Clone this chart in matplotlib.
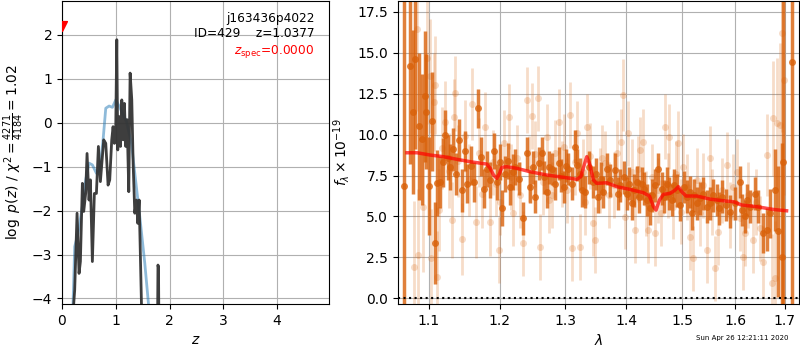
"""Redshift fit summary: p(z) on the left, 1D grism spectrum + best-fit model on the right."""

import matplotlib
matplotlib.use("Agg")
import matplotlib.pyplot as plt
from matplotlib.ticker import FixedLocator, FixedFormatter, NullLocator
import numpy as np

# --- p(z) -------------------------------------------------------------
z_grid = [0.19, 0.236, 0.28, 0.317, 0.342, 0.379, 0.404, 0.44, 0.466, 0.503,
          0.528, 0.565, 0.602, 0.64, 0.677, 0.714, 0.776, 0.814, 0.857, 0.888,
          0.925, 0.95, 0.975, 1.0, 1.019, 1.037, 1.062, 1.087, 1.112, 1.137,
          1.161, 1.186, 1.211, 1.242, 1.267, 1.298, 1.323, 1.354, 1.385, 1.41,
          1.435, 1.478, 1.52, 1.77, 1.785, 1.795, 1.81, 2.0]
logp = [-4.6, -3.81, -2.06, -3.43, -3.16, -1.38, -2.02, -1.61, -0.70, -1.76,
        -1.30, -3.16, -1.61, -1.61, -0.54, -1.34, -0.39, -0.47, -1.42, -1.30,
        -0.39, -0.09, -0.47, -0.09, 1.89, -0.62, 0.14, -0.54, 0.52, -0.39,
        0.44, -0.54, 0.07, -1.57, 1.13, 0.52, -0.92, -2.06, -1.76, -2.29,
        -1.76, -4.13, -6.0, -6.0, -3.24, -3.3, -6.0, -6.0]

z_prior = [0.19, 0.205, 0.236, 0.298, 0.379, 0.441, 0.503, 0.565, 0.64, 0.702,
           0.764, 0.814, 0.876, 0.938, 1.0, 1.062, 1.137, 1.199, 1.292, 1.354,
           1.447, 1.54, 1.609, 1.65]
logp_prior = [-5.2, -4.13, -2.82, -2.52, -1.91, -1.30, -0.92, -0.96, -1.15, -1.08,
              -0.39, 0.33, 0.38, 0.35, 0.52, 0.38, 0.18, 0.03, -0.47, -1.15,
              -2.14, -3.20, -4.13, -4.8]

z_spec = 0.0
chi2, dof = 4271, 4184

# --- spectrum (wavelength in microns, flux in 1e-19) --------------------
wave_a = [1.0678, 1.0757, 1.0792, 1.0822, 1.0867, 1.0911, 1.0946, 1.0969, 1.1000, 1.1045,
          1.1081, 1.1112, 1.1158, 1.1190, 1.1226, 1.1260, 1.1295, 1.1330, 1.1370, 1.1410,
          1.1457, 1.1503, 1.1527, 1.1580, 1.1631, 1.1678, 1.1726, 1.1764, 1.1810, 1.1860,
          1.1908, 1.1957, 1.2000, 1.2030, 1.2079, 1.2115, 1.2153, 1.2190, 1.2227, 1.2290,
          1.2352, 1.2403, 1.2453, 1.2490, 1.2530, 1.2581, 1.2632, 1.2670, 1.2710, 1.2750,
          1.2788, 1.2840, 1.2892, 1.2930, 1.2971, 1.3010, 1.3050, 1.3100, 1.3157, 1.3184,
          1.3230, 1.3265, 1.3319, 1.3380, 1.3455, 1.3500, 1.3537, 1.3580, 1.3620, 1.3680,
          1.3732, 1.3816, 1.3860, 1.3900, 1.3960, 1.4013, 1.4060, 1.4099, 1.4140, 1.4186,
          1.4230, 1.4272, 1.4310, 1.4360, 1.4419, 1.4460, 1.4507, 1.4566, 1.4626, 1.4670,
          1.4716, 1.4760, 1.4806, 1.4850, 1.4896, 1.4957, 1.5020, 1.5079, 1.5130, 1.5171,
          1.5220, 1.5264, 1.5330, 1.5389, 1.5450, 1.5515, 1.5580, 1.5642, 1.5690, 1.5738,
          1.5820, 1.5899, 1.5996, 1.6094, 1.6140, 1.6193, 1.6240, 1.6292, 1.6391, 1.6458,
          1.6559, 1.6627, 1.6694, 1.6796, 1.6865, 1.6933, 1.6968, 1.7141]
flux_a = [6.86, 14.2, 11.4, 14.6, 10.5, 9.7, 12.35, 11.4, 6.86, 10.8,
          3.36, 7.06, 7.1, 8.3, 10.0, 8.6, 8.0, 9.1, 7.6, 9.67,
          6.6, 9.0, 7.0, 8.1, 7.1, 11.6, 8.65, 6.7, 7.9, 7.2,
          9.0, 7.1, 8.3, 5.5, 7.6, 8.4, 6.8, 7.7, 8.0, 7.3,
          4.9, 8.85, 6.8, 8.0, 6.2, 8.25, 8.85, 7.4, 6.5, 8.0,
          7.9, 7.0, 8.25, 7.5, 6.8, 8.1, 7.9, 7.0, 9.25, 8.15,
          7.6, 6.6, 6.5, 8.0, 7.1, 7.6, 6.2, 7.3, 6.5, 7.9,
          7.2, 7.85, 6.4, 6.9, 7.4, 6.4, 7.0, 5.8, 6.6, 7.1,
          6.2, 7.0, 6.7, 6.0, 5.5, 6.3, 6.9, 7.9, 6.7, 6.2,
          7.0, 6.4, 6.0, 6.9, 6.6, 5.7, 6.8, 6.2, 6.5, 5.2,
          6.3, 5.8, 6.1, 6.4, 5.6, 5.8, 6.3, 6.0, 5.5, 6.2,
          5.7, 5.3, 5.8, 7.1, 5.4, 5.0, 6.0, 5.6, 6.4, 5.6,
          4.0, 4.2, 5.2, 6.6, 4.1, 2.5, 8.3, 14.45]
err_a = [14.0, 6.0, 5.0, 5.5, 4.5, 4.0, 4.0, 3.5, 3.0, 3.0,
         2.5, 2.0, 1.6, 1.5, 1.5, 1.4, 1.4, 1.3, 1.3, 1.3,
         1.3, 1.2, 1.2, 1.2, 1.2, 1.2, 1.2, 1.2, 1.1, 1.1,
         1.1, 1.1, 1.1, 1.1, 1.1, 1.1, 1.1, 1.1, 1.1, 1.0,
         1.0, 1.0, 1.0, 1.0, 1.0, 1.0, 1.0, 1.0, 1.0, 1.0,
         1.0, 1.0, 1.0, 1.0, 1.0, 1.0, 1.0, 1.0, 1.0, 1.0,
         1.0, 1.0, 1.0, 1.0, 1.0, 1.0, 1.0, 1.0, 1.0, 1.0,
         1.0, 1.0, 1.0, 1.0, 1.0, 1.0, 1.0, 1.0, 1.0, 1.0,
         1.0, 1.0, 1.0, 1.0, 1.0, 1.0, 1.0, 1.0, 1.0, 1.0,
         1.0, 1.0, 1.0, 1.0, 1.0, 1.0, 1.0, 1.0, 1.0, 1.0,
         1.0, 1.0, 1.0, 1.0, 1.0, 1.0, 1.0, 1.0, 1.0, 1.0,
         1.0, 1.0, 1.0, 1.0, 1.0, 1.0, 1.0, 1.0, 1.0, 1.0,
         1.2, 1.3, 1.5, 2.5, 4.0, 7.0, 12.0, 16.0]

wave_b = [1.0800, 1.0846, 1.0853, 1.0924, 1.0978, 1.1022, 1.1030, 1.1067, 1.1090, 1.1112,
          1.1135, 1.1180, 1.1226, 1.1280, 1.1318, 1.1350, 1.1364, 1.1400, 1.1457, 1.1500,
          1.1550, 1.1598, 1.1659, 1.1700, 1.1740, 1.1788, 1.1860, 1.1900, 1.1940, 1.1981,
          1.2005, 1.2060, 1.2128, 1.2160, 1.2202, 1.2260, 1.2300, 1.2342, 1.2403, 1.2440,
          1.2479, 1.2520, 1.2566, 1.2600, 1.2650, 1.2710, 1.2750, 1.2788, 1.2840, 1.2892,
          1.2940, 1.2971, 1.3020, 1.3076, 1.3103, 1.3150, 1.3194, 1.3240, 1.3290, 1.3319,
          1.3345, 1.3400, 1.3455, 1.3482, 1.3560, 1.3600, 1.3648, 1.3720, 1.3788, 1.3850,
          1.3911, 1.3956, 1.3980, 1.4042, 1.4099, 1.4157, 1.4200, 1.4244, 1.4301, 1.4340,
          1.4389, 1.4450, 1.4507, 1.4560, 1.4620, 1.4686, 1.4730, 1.4764, 1.4830, 1.4880,
          1.4926, 1.4970, 1.5017, 1.5080, 1.5140, 1.5202, 1.5260, 1.5326, 1.5390, 1.5452,
          1.5515, 1.5560, 1.5610, 1.5673, 1.5750, 1.5834, 1.5900, 1.5960, 1.6028, 1.6090,
          1.6159, 1.6193, 1.6260, 1.6358, 1.6420, 1.6492, 1.6559, 1.6627, 1.6728, 1.6762,
          1.6796, 1.6830, 1.6899, 1.6933, 1.6982]
flux_b = [1.93, 16.42, 2.65, 5.6, 14.65, 13.57, 2.44, 12.0, 13.02, 1.32,
          5.39, 9.2, 10.79, 7.8, 4.78, 11.09, 12.52, 8.4, 3.6, 9.9,
          7.2, 11.85, 4.68, 8.9, 6.4, 10.48, 4.68, 8.3, 7.0, 2.95,
          5.9, 9.5, 11.09, 7.4, 5.19, 8.6, 6.3, 3.36, 12.11, 7.9,
          11.13, 8.8, 12.21, 3.15, 7.1, 9.87, 6.0, 6.31, 8.9, 10.79,
          7.6, 9.26, 6.6, 11.19, 3.05, 8.3, 10.07, 3.15, 7.7, 5.9,
          10.48, 8.7, 4.58, 3.56, 7.2, 8.6, 8.24, 6.3, 6.92, 8.9,
          9.56, 12.41, 4.99, 10.07, 7.73, 4.17, 7.9, 9.06, 9.56, 5.8,
          4.17, 7.4, 3.97, 6.6, 5.2, 10.48, 6.9, 9.87, 5.6, 7.6,
          9.46, 5.3, 8.04, 6.8, 3.76, 2.44, 7.2, 5.19, 6.9, 2.95,
          8.55, 5.9, 1.83, 4.07, 6.6, 8.14, 5.1, 6.8, 7.73, 4.9,
          2.54, 3.97, 6.3, 3.56, 5.9, 4.27, 2.24, 8.75, 0.92, 10.99,
          1.22, 10.68, 10.58, 16.18, 13.33]
err_b = [4.0, 5.0, 4.0, 4.0, 4.0, 3.5, 3.0, 3.0, 3.0, 2.8,
         2.5, 2.5, 2.5, 2.3, 2.3, 2.3, 2.3, 2.2, 2.2, 2.2,
         2.2, 2.2, 2.2, 2.1, 2.1, 2.1, 2.1, 2.0, 2.0, 2.0,
         2.0, 2.0, 2.0, 2.0, 2.0, 2.0, 2.0, 2.0, 2.0, 2.0,
         2.0, 2.0, 2.0, 2.0, 2.0, 2.0, 2.0, 2.0, 2.0, 2.0,
         2.0, 2.0, 2.0, 2.0, 2.0, 2.0, 2.0, 2.0, 2.0, 2.0,
         2.0, 2.0, 2.0, 2.0, 2.0, 2.0, 2.0, 2.0, 2.0, 2.0,
         2.0, 2.2, 2.0, 2.0, 2.0, 2.0, 2.0, 2.0, 2.0, 2.0,
         2.0, 2.0, 2.0, 2.0, 2.0, 2.0, 2.0, 2.0, 2.0, 2.0,
         2.0, 2.0, 2.0, 2.0, 2.0, 2.0, 2.0, 2.0, 2.0, 2.0,
         2.0, 2.0, 2.0, 2.0, 2.0, 2.0, 2.0, 2.0, 2.0, 2.0,
         2.0, 2.0, 2.0, 2.0, 2.0, 2.0, 2.2, 2.5, 3.0, 3.5,
         3.5, 4.0, 5.0, 6.0, 7.0]

wave_model = [1.0713, 1.0846, 1.1022, 1.1203, 1.1388, 1.1577, 1.1812, 1.1860, 1.1908, 1.1957,
              1.1996, 1.2030, 1.2104, 1.2252, 1.2453, 1.2710, 1.2971, 1.3184, 1.3249, 1.3303,
              1.3345, 1.3389, 1.3455, 1.3509, 1.3675, 1.3844, 1.4071, 1.4301, 1.4407, 1.4478,
              1.4524, 1.4584, 1.4655, 1.4775, 1.4865, 1.4926, 1.4987, 1.5067, 1.5264, 1.5515,
              1.5770, 1.5964, 1.6127, 1.6425, 1.6762, 1.7035]
flux_model = [8.89, 8.89, 8.75, 8.65, 8.49, 8.34, 8.2, 7.94, 7.53, 7.33,
              7.63, 8.0, 8.04, 7.94, 7.73, 7.53, 7.39, 7.27, 7.43, 8.14,
              8.65, 8.24, 7.22, 7.02, 7.06, 6.82, 6.65, 6.45, 6.25, 5.6,
              5.39, 6.0, 6.35, 6.41, 6.61, 6.82, 6.51, 6.25, 6.25, 6.06,
              5.96, 5.9, 5.7, 5.6, 5.43, 5.35]

wave_ticks = [1.1, 1.2, 1.3, 1.4, 1.5, 1.6, 1.7]
flux_ticks = [0.0, 2.5, 5.0, 7.5, 10.0, 12.5, 15.0, 17.5]

ORANGE = (0.85, 0.38, 0.04)

fig = plt.figure(figsize=(8, 3.5), dpi=100)
axz = fig.add_axes([0.0775, 0.131, 0.334, 0.866])
axs = fig.add_axes([0.4975, 0.131, 0.5015, 0.866])

# left: log p(z)
axz.plot(z_prior, logp_prior, color="#1f77b4", alpha=0.5, lw=2)
axz.plot(z_grid, logp, color="0.2", alpha=0.95, lw=2)
axz.scatter([z_spec], [2.2], marker="v", color="red", s=50, zorder=5, clip_on=True)
axz.set_xlim(0, 4.97)
axz.set_ylim(-4.13, 2.77)
axz.set_xticks([0, 1, 2, 3, 4])
axz.set_yticks([-4, -3, -2, -1, 0, 1, 2])
axz.grid(True)
axz.set_xlabel(r"$z$")
axz.set_ylabel(r"$\log\ p(z)$ / $\chi^2=\frac{%d}{%d}=%.2f$" % (chi2, dof, chi2 / dof))
axz.text(0.945, 0.965, "j163436p4022", transform=axz.transAxes, ha="right", va="top", fontsize=8.7)
axz.text(0.945, 0.915, "ID=429    z=1.0377", transform=axz.transAxes, ha="right", va="top", fontsize=8.7)
axz.text(0.945, 0.86, r"$z_\mathrm{spec}$=%.4f" % z_spec, transform=axz.transAxes,
         ha="right", va="top", fontsize=8.7, color="red")

# right: spectrum
axs.errorbar(wave_b, flux_b, yerr=err_b, marker="o", ms=5, ls="none", color=ORANGE,
             alpha=0.22, elinewidth=2, mew=0)
axs.errorbar(wave_a, flux_a, yerr=err_a, marker="o", ms=5, ls="none", color=ORANGE,
             alpha=0.8, elinewidth=2.5, mew=0)
axs.plot(wave_model, flux_model, color="red", lw=2.5, alpha=0.7, zorder=10)
axs.axhline(0, color="k", ls=":", lw=1.5)
axs.set_xscale("log")
axs.set_xlim(1.0596, 1.730)
axs.set_ylim(-0.35, 18.15)
axs.xaxis.set_major_locator(FixedLocator(wave_ticks))
axs.xaxis.set_major_formatter(FixedFormatter(["%.1f" % w for w in wave_ticks]))
axs.xaxis.set_minor_locator(NullLocator())
axs.set_yticks(flux_ticks)
axs.grid(True)
axs.set_xlabel(r"$\lambda$")
axs.set_ylabel(r"$f_\lambda\times10^{-19}$")

fig.text(0.985, 0.025, "Sun Apr 26 12:21:11 2020", ha="right", va="bottom", fontsize=5)

fig.savefig("out.png", dpi=100)
